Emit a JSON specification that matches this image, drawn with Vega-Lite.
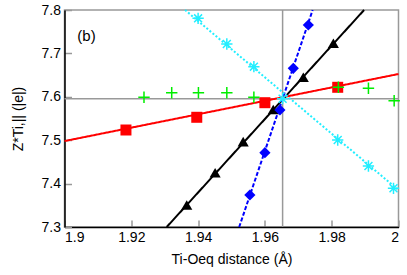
{
  "$schema": "https://vega.github.io/schema/vega-lite/v6.json",
  "width": 334,
  "height": 217,
  "autosize": {"type": "none"},
  "padding": {"left": 64.5, "top": 10, "right": 8.5, "bottom": 48},
  "config": {
    "font": "Liberation Sans",
    "view": {"stroke": "#999999", "strokeWidth": 1.5},
    "axis": {
      "grid": false,
      "domainColor": "#000000",
      "domainWidth": 1.5,
      "tickColor": "#999999",
      "tickWidth": 1.5,
      "tickSize": -7,
      "labelFontSize": 14,
      "labelColor": "#000000",
      "titleFontSize": 14,
      "titleFontWeight": "normal",
      "titleColor": "#000000"
    }
  },
  "datasets": {
    "refs": [{"x": 1.9653, "y": 7.5956}],
    "fits": [
      {"s": "red", "x": 1.9, "y": 7.498},
      {"s": "red", "x": 2.0, "y": 7.6525},
      {"s": "black", "x": 1.9306, "y": 7.3},
      {"s": "black", "x": 1.9897, "y": 7.8},
      {"s": "blue", "x": 1.9523, "y": 7.3},
      {"s": "blue", "x": 1.9743, "y": 7.8},
      {"s": "cyan", "x": 1.9361, "y": 7.8},
      {"s": "cyan", "x": 2.0, "y": 7.385}
    ],
    "filled": [
      {"s": "red", "x": 1.9184, "y": 7.5235},
      {"s": "red", "x": 1.9396, "y": 7.5528},
      {"s": "red", "x": 1.96, "y": 7.5864},
      {"s": "red", "x": 1.9818, "y": 7.6219},
      {"s": "black", "x": 1.9366, "y": 7.3507},
      {"s": "black", "x": 1.9451, "y": 7.4251},
      {"s": "black", "x": 1.9535, "y": 7.4966},
      {"s": "black", "x": 1.9625, "y": 7.5706},
      {"s": "black", "x": 1.9715, "y": 7.645},
      {"s": "black", "x": 1.9805, "y": 7.7233},
      {"s": "blue", "x": 1.9555, "y": 7.3737},
      {"s": "blue", "x": 1.96, "y": 7.4712},
      {"s": "blue", "x": 1.9645, "y": 7.5696},
      {"s": "blue", "x": 1.9685, "y": 7.6657},
      {"s": "blue", "x": 1.973, "y": 7.7654}
    ],
    "stroked": [
      {"s": "cyan", "x": 1.94, "y": 7.7808},
      {"s": "cyan", "x": 1.9486, "y": 7.7217},
      {"s": "cyan", "x": 1.9567, "y": 7.6694},
      {"s": "cyan", "x": 1.9653, "y": 7.5956},
      {"s": "cyan", "x": 1.9818, "y": 7.5005},
      {"s": "cyan", "x": 1.991, "y": 7.4406},
      {"s": "cyan", "x": 1.9985, "y": 7.3892},
      {"s": "green", "x": 1.9238, "y": 7.5988},
      {"s": "green", "x": 1.9321, "y": 7.6095},
      {"s": "green", "x": 1.9401, "y": 7.6095},
      {"s": "green", "x": 1.9486, "y": 7.6095},
      {"s": "green", "x": 1.9567, "y": 7.599},
      {"s": "green", "x": 1.982, "y": 7.622},
      {"s": "green", "x": 1.991, "y": 7.6196},
      {"s": "green", "x": 1.9987, "y": 7.591}
    ],
    "label": [{"x": 1.9066, "y": 7.741, "t": "(b)"}]
  },
  "encoding": {
    "x": {
      "field": "x", "type": "quantitative",
      "scale": {"domain": [1.9, 2.0], "nice": false, "zero": false},
      "axis": {"values": [1.9, 1.92, 1.94, 1.96, 1.98, 2.0], "format": "~g", "title": "Ti-Oeq distance (Å)", "labelPadding": 10, "titlePadding": 8}
    },
    "y": {
      "field": "y", "type": "quantitative",
      "scale": {"domain": [7.3, 7.8], "nice": false, "zero": false},
      "axis": {"values": [7.3, 7.4, 7.5, 7.6, 7.7, 7.8], "format": "~g", "title": "Z*Ti,|| (|e|)", "labelPadding": 11, "titlePadding": 16}
    },
    "color": {"field": "s", "type": "nominal", "legend": null,
      "scale": {"domain": ["red", "black", "blue", "cyan", "green"], "range": ["#ff0000", "#000000", "#0000ff", "#22eeff", "#00ee00"]}}
  },
  "layer": [
    {
      "data": {"name": "refs"},
      "mark": {"type": "rule", "color": "#999999", "strokeWidth": 1.5},
      "encoding": {"y": null, "color": null}
    },
    {
      "data": {"name": "refs"},
      "mark": {"type": "rule", "color": "#999999", "strokeWidth": 1.5},
      "encoding": {"x": null, "color": null}
    },
    {
      "data": {"name": "fits"},
      "mark": {"type": "line", "strokeWidth": 2},
      "encoding": {
        "strokeDash": {"field": "s", "type": "nominal", "legend": null,
          "scale": {"domain": ["red", "black", "blue", "cyan"], "range": [[1, 0], [1, 0], [4, 2], [2, 2]]}}
      }
    },
    {
      "data": {"name": "filled"},
      "mark": {"type": "point", "filled": true, "opacity": 1},
      "encoding": {
        "shape": {"field": "s", "type": "nominal", "legend": null,
          "scale": {"domain": ["red", "black", "blue", "cyan", "green"], "range": ["square", "triangle-up", "diamond", "M-1,0L1,0M0,-1L0,1M-0.7,-0.7L0.7,0.7M-0.7,0.7L0.7,-0.7", "M-1,0L1,0M0,-1L0,1"]}},
        "size": {"field": "s", "type": "nominal", "legend": null,
          "scale": {"domain": ["red", "black", "blue", "cyan", "green"], "range": [121, 130, 120, 169, 144]}}
      }
    },
    {
      "data": {"name": "stroked"},
      "mark": {"type": "point", "filled": false, "opacity": 1, "strokeWidth": 1.5},
      "encoding": {
        "shape": {"field": "s", "type": "nominal", "legend": null,
          "scale": {"domain": ["red", "black", "blue", "cyan", "green"], "range": ["square", "triangle-up", "diamond", "M-1,0L1,0M0,-1L0,1M-0.7,-0.7L0.7,0.7M-0.7,0.7L0.7,-0.7", "M-1,0L1,0M0,-1L0,1"]}},
        "size": {"field": "s", "type": "nominal", "legend": null,
          "scale": {"domain": ["red", "black", "blue", "cyan", "green"], "range": [121, 130, 120, 169, 144]}}
      }
    },
    {
      "data": {"name": "label"},
      "mark": {"type": "text", "fontSize": 15, "align": "center", "baseline": "middle", "color": "#000000"},
      "encoding": {"text": {"field": "t"}, "color": null}
    }
  ]
}
